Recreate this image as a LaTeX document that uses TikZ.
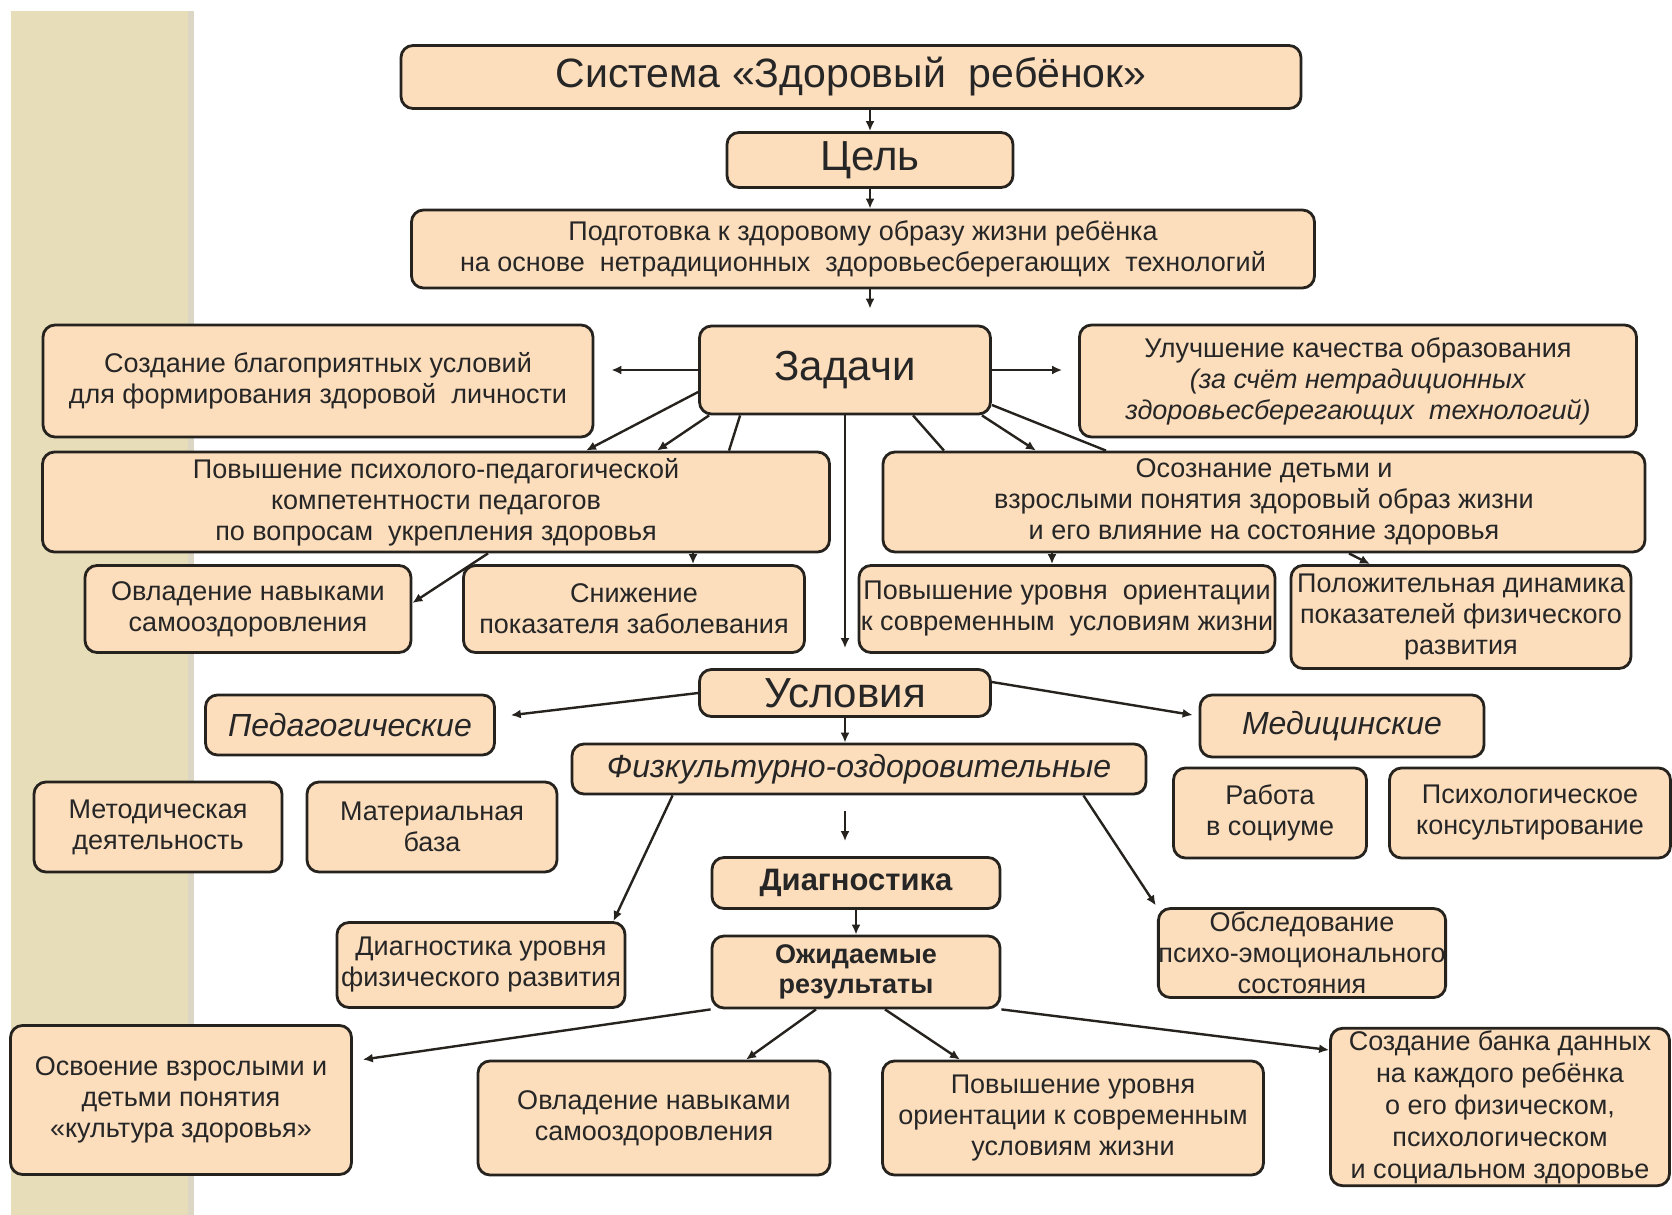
\documentclass[tikz,border=0pt]{standalone}
\usepackage{fontspec}
\setmainfont{Liberation Sans}
\usetikzlibrary{arrows.meta}

\definecolor{boxfill}{RGB}{252,221,188}
\definecolor{stripcol}{RGB}{231,221,184}
\definecolor{edgecol}{RGB}{38,34,30}

\begin{document}
\begin{tikzpicture}[x=0.5pt, y=-0.5pt,
    box/.style={draw=edgecol, line width=1.4pt, fill=boxfill, rounded corners=6pt,
        align=center, inner sep=1pt, text=black!85,
        font=\fontsize{13.5}{15.5}\selectfont},
    head/.style={box, font=\fontsize{21}{23}\selectfont},
    arr/.style={-{Latex[length=5pt,width=4.5pt]}, line width=1.2pt, draw=edgecol},
    ln/.style={line width=1.2pt, draw=edgecol}]
    \useasboundingbox (0,0) rectangle (1672,1215);

    % left strip
    \fill[stripcol] (11,11) rectangle (194,1215);
    \fill[stripcol!85!black!60!white] (188,11) rectangle (194,1215);

    % system and goal
    \node[head, minimum width=450pt, minimum height=31.5pt, font=\fontsize{20.5}{23}\selectfont] (title) at (851,77) {Система «Здоровый \ ребёнок»};
    \node[head, minimum width=143pt, minimum height=27.5pt] (cel) at (870,160) {Цель};
    \node[box, minimum width=451.5pt, minimum height=39pt] (goal) at (863,249)
        {Подготовка к здоровому образу жизни ребёнка\\на основе \ нетрадиционных \ здоровьесберегающих \ технологий};

    % tasks
    \node[head, minimum width=145.5pt, minimum height=44pt] (zadachi) at (845,370) {Задачи};
    \node[box, minimum width=275pt, minimum height=56pt] (sozd) at (318,381)
        {Создание благоприятных условий\\для формирования здоровой \ личности};
    \node[box, minimum width=278.5pt, minimum height=56pt] (uluch) at (1358,381)
        {Улучшение качества образования\\\textit{(за счёт нетрадиционных}\\\textit{здоровьесберегающих \ технологий)}};
    \node[box, minimum width=393.5pt, minimum height=50pt] (povysh) at (436,502)
        {Повышение психолого-педагогической\\компетентности педагогов\\по вопросам \ укрепления здоровья};
    \node[box, minimum width=381pt, minimum height=50pt] (osozn) at (1264,502)
        {Осознание детьми и\\взрослыми понятия здоровый образ жизни\\и его влияние на состояние здоровья};
    \node[box, minimum width=163pt, minimum height=43.5pt] (ovlad1) at (248,609)
        {Овладение навыками\\самооздоровления};
    \node[box, minimum width=170.5pt, minimum height=43.5pt] (snizh) at (634,609)
        {Снижение\\показателя заболевания};
    \node[box, minimum width=208pt, minimum height=43.5pt, inner xsep=0pt] (orient1) at (1067,609)
        {Повышение уровня \ ориентации\\к современным \ условиям жизни};
    \node[box, minimum width=170pt, minimum height=51.5pt, inner xsep=0pt] (dinam) at (1461,617)
        {Положительная динамика\\показателей физического\\развития};

    \draw[arr] (title.south -| cel.north) -- (cel.north);
    \draw[arr] (cel.south) -- (cel.south |- goal.north);
    \draw[arr, shorten >=8pt] (goal.south -| cel.south) -- (zadachi.north -| cel.south);
    \draw[arr, shorten >=8.5pt] (zadachi.west) -- (sozd.east |- zadachi.west);
    \draw[arr, shorten >=8pt] (zadachi.east) -- (uluch.west |- zadachi.east);
    \draw[arr] ([yshift=-11pt]zadachi.west) -- ([xshift=75pt]povysh.north);
    \draw[arr] ([xshift=5.5pt]zadachi.south west) -- ([xshift=110.5pt]povysh.north);
    \draw[ln] ([xshift=21pt]zadachi.south west) -- ([xshift=146.5pt]povysh.north);
    \draw[ln] ([xshift=34pt]zadachi.south) -- ([xshift=-160pt]osozn.north);
    \draw[arr] ([xshift=-5pt]zadachi.south east) -- ([xshift=-114pt]osozn.north);
    \draw[ln] ([yshift=-17.5pt]zadachi.east) -- ([xshift=-79pt]osozn.north);
    \draw[arr] ([xshift=26pt]povysh.south) -- ([yshift=3pt]ovlad1.east);
    \draw[arr] ([xshift=128.5pt]povysh.south) -- ([xshift=29.5pt]snizh.north);
    \draw[arr] ([xshift=-106pt]osozn.south) -- ([xshift=-7.5pt]orient1.north);
    \draw[arr] ([xshift=42.5pt]osozn.south) -- ([xshift=-45.5pt]dinam.north);

    % conditions
    \node[head, minimum width=145.5pt, minimum height=23.5pt] (uslov) at (845,693) {Условия};
    \node[box, minimum width=144.5pt, minimum height=30pt, font=\fontsize{16}{18}\selectfont\itshape] (ped) at (350,725) {Педагогические};
    \node[box, minimum width=142pt, minimum height=31pt, font=\fontsize{16}{18}\selectfont\itshape] (med) at (1342,726) {Медицинские};
    \node[box, minimum width=287pt, minimum height=25pt, font=\fontsize{16}{18}\selectfont\itshape] (fiz) at (859,769) {Физкультурно-оздоровительные};
    \node[box, minimum width=124pt, minimum height=45pt] (metod) at (158,827) {Методическая\\деятельность};
    \node[box, minimum width=125pt, minimum height=45pt] (mater) at (432,827) {Материальная\\база};
    \node[box, minimum width=96.5pt, minimum height=45pt] (rabota) at (1270,813) {Работа\\в социуме};
    \node[box, minimum width=140.5pt, minimum height=45pt] (psikh) at (1530,813) {Психологическое\\консультирование};
    \node[box, minimum width=144pt, minimum height=25.5pt, font=\fontsize{15.5}{15.5}\selectfont\bfseries] (diag) at (856,883) {Диагностика};
    \node[box, minimum width=144pt, minimum height=36pt, font=\fontsize{13.5}{15}\selectfont\bfseries] (ozhid) at (856,972) {Ожидаемые\\результаты};
    \node[box, minimum width=144pt, minimum height=42.5pt, inner xsep=0pt] (diagur) at (481,965) {Диагностика уровня\\физического развития};
    \node[box, minimum width=143.5pt, minimum height=44.5pt, inner xsep=0pt] (obsled) at (1302,953) {Обследование\\психо-эмоционального\\состояния};

    \draw[arr, shorten >=10pt] (zadachi.south) -- (uslov.north);
    \draw[arr, shorten >=7.5pt] (uslov.west) -- ([yshift=4pt]ped.east);
    \draw[arr, shorten >=3pt] ([yshift=5.5pt]uslov.east) -- ([yshift=5pt]med.west);
    \draw[arr] (uslov.south) -- (uslov.south |- fiz.north);
    \draw[arr, shorten <=8pt, shorten >=7.5pt] (uslov.south |- fiz.south) -- (uslov.south |- diag.north);
    \draw[arr] (diag.south) -- (ozhid.north);
    \draw[arr] ([xshift=51pt]fiz.south west) -- ([xshift=-6.5pt]diagur.north east);
    \draw[arr, shorten >=1pt] ([xshift=-32pt]fiz.south east) -- (obsled.north west);

    % expected results
    \node[box, minimum width=170.5pt, minimum height=74.5pt] (osvoen) at (181,1100)
        {Освоение взрослыми и\\детьми понятия\\«культура здоровья»};
    \node[box, minimum width=176pt, minimum height=57pt] (ovlad2) at (654,1118)
        {Овладение навыками\\самооздоровления};
    \node[box, minimum width=190.5pt, minimum height=57pt] (orient2) at (1073,1118)
        {Повышение уровня\\ориентации к современным\\условиям жизни};
    \node[box, minimum width=169.5pt, minimum height=78.5pt, font=\fontsize{13.5}{16}\selectfont] (bank) at (1500,1107)
        {Создание банка данных\\на каждого ребёнка\\о его физическом,\\психологическом\\и социальном здоровье};

    \draw[arr, shorten >=5pt] (ozhid.south west) -- ([yshift=19.5pt]osvoen.east);
    \draw[arr] ([xshift=-20pt]ozhid.south) -- ([xshift=46pt]ovlad2.north);
    \draw[arr] ([xshift=14.5pt]ozhid.south) -- ([xshift=-56.5pt]orient2.north);
    \draw[arr] (ozhid.south east) -- ([yshift=28.5pt]bank.west);
\end{tikzpicture}
\end{document}
